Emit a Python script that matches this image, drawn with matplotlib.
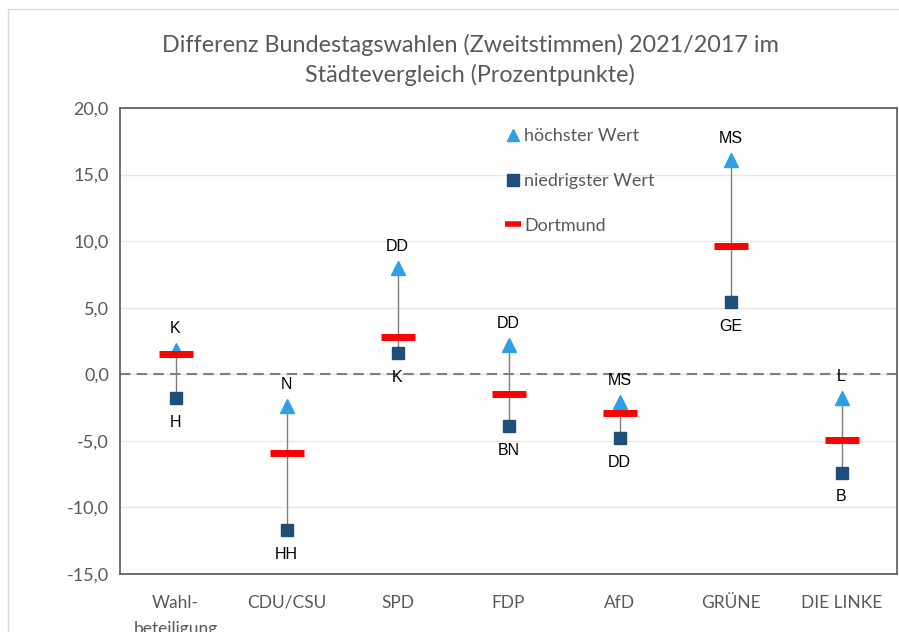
import matplotlib.pyplot as plt
from matplotlib.patches import Rectangle
from matplotlib.lines import Line2D

categories = ["Wahl-\nbeteiligung", "CDU/CSU", "SPD", "FDP", "AfD", "GRÜNE", "DIE LINKE"]
hoechster = [1.8, -2.4, 8.0, 2.2, -2.1, 16.1, -1.8]
niedrigster = [-1.8, -11.7, 1.6, -3.9, -4.8, 5.4, -7.4]
dortmund = [1.5, -5.9, 2.8, -1.5, -2.9, 9.6, -4.9]
hoch_staedte = ["K", "N", "DD", "DD", "MS", "MS", "L"]
tief_staedte = ["H", "HH", "K", "BN", "DD", "GE", "B"]

TEXT_FONT = ["Lato", "DejaVu Sans"]
LABEL_FONT = ["Liberation Sans", "DejaVu Sans"]
GREY = "#595959"

fig = plt.figure(figsize=(8.99, 6.32), dpi=100)
ax = fig.add_axes([120 / 899, 58 / 632, 777 / 899, 466 / 632])

# chart area border
fig.patches.append(Rectangle((8 / 899, -0.1), 1.0, 1.0 + 0.1 - 9 / 632, transform=fig.transFigure,
                             fill=False, edgecolor="#d9d9d9", linewidth=1))

x = list(range(len(categories)))

for i in x:
    ax.plot([i, i], [niedrigster[i], hoechster[i]], color="#7f7f7f", linewidth=1, zorder=2)

ax.plot(x, hoechster, linestyle="none", marker="^", markersize=10, color="#2e9fe6", zorder=3)
ax.plot(x, niedrigster, linestyle="none", marker="s", markersize=9, color="#1f4e79", zorder=3)
ax.plot(x, dortmund, linestyle="none", marker="_", markersize=25, markeredgewidth=5,
        color="#ff0000", zorder=4)

for i in x:
    ax.annotate(hoch_staedte[i], (i, hoechster[i]), xytext=(0, 10), textcoords="offset points",
                ha="center", va="bottom", fontsize=11.5, family=LABEL_FONT, color="black")
    ax.annotate(tief_staedte[i], (i, niedrigster[i]), xytext=(0, -12), textcoords="offset points",
                ha="center", va="top", fontsize=11.5, family=LABEL_FONT, color="black")

ax.axhline(0, color="#7f7f7f", linestyle="--", linewidth=1.5, dashes=(5, 3), zorder=1)

ax.set_xlim(-0.5, len(categories) - 0.5)
ax.set_ylim(-15, 20)
ax.set_yticks(range(-15, 21, 5))
ax.set_yticklabels([f"{v:.1f}".replace(".", ",") for v in range(-15, 21, 5)],
                   family=TEXT_FONT, fontsize=13, color=GREY)
ax.set_xticks(x)
ax.set_xticklabels(categories, family=TEXT_FONT, fontsize=12.5, color=GREY, linespacing=1.75)
ax.tick_params(axis="x", length=0, pad=15)
ax.tick_params(axis="y", length=0, pad=8)
ax.yaxis.grid(True, color="#e6e6e6", linewidth=1)
ax.set_axisbelow(True)
for s in ax.spines.values():
    s.set_color("#595959")
    s.set_linewidth(1.2)

fig.text(470 / 899, 1 - 45 / 632, "Differenz Bundestagswahlen (Zweitstimmen) 2021/2017 im",
         ha="center", va="center", family=TEXT_FONT, fontsize=16.8, color=GREY)
fig.text(470 / 899, 1 - 75 / 632, "Städtevergleich (Prozentpunkte)",
         ha="center", va="center", family=TEXT_FONT, fontsize=16.8, color=GREY)

handles = [
    Line2D([], [], linestyle="none", marker="^", markersize=9, color="#2e9fe6"),
    Line2D([], [], linestyle="none", marker="s", markersize=9, color="#1f4e79"),
    Line2D([], [], linestyle="none", marker="_", markersize=12, markeredgewidth=4, color="#ff0000"),
]
ax.legend(handles, ["höchster Wert", "niedrigster Wert", "Dortmund"], loc="upper left",
          bbox_to_anchor=(508 / 899, 1 - 128 / 632), bbox_transform=fig.transFigure,
          frameon=False, handlelength=0.6, handletextpad=0.3, labelspacing=1.6,
          prop={"family": TEXT_FONT, "size": 13}, labelcolor=GREY, borderaxespad=0,
          borderpad=0)

fig.savefig("out.png", dpi=100)
